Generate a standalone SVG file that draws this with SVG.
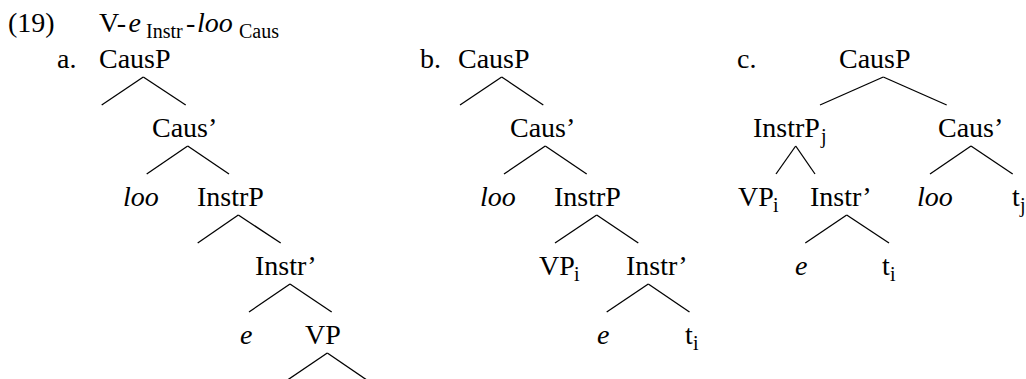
<svg xmlns="http://www.w3.org/2000/svg" width="1026" height="379" viewBox="0 0 1026 379">
<style>
text{font-family:"Liberation Serif","Times New Roman",serif;font-size:28px;fill:#000}
.i{font-style:italic}
.s{font-size:20px}
#edges line{stroke:#000;stroke-width:1.3;fill:none}
</style>
<rect width="1026" height="379" fill="#fff"/>
<g id="title">
<text x="8" y="32">(19)</text>
<text x="99" y="32">V-</text>
<text x="128.5" y="32" class="i">e</text>
<text x="146" y="38" class="s">Instr</text>
<text x="186" y="32">-</text>
<text x="197" y="32" class="i">loo</text>
<text x="239" y="38" class="s">Caus</text>
</g>
<g id="labels">
<text x="57" y="68">a.</text>
<text x="420" y="68">b.</text>
<text x="737" y="68">c.</text>
</g>
<g id="tree-a">
<g id="a-causp"><text x="99" y="68">CausP</text></g>
<g id="a-caus1"><text x="152" y="137">Caus’</text></g>
<g id="a-loo"><text x="123" y="206" class="i">loo</text></g>
<g id="a-instrp"><text x="197" y="206">InstrP</text></g>
<g id="a-instr1"><text x="255" y="275">Instr’</text></g>
<g id="a-e"><text x="240" y="344" class="i">e</text></g>
<g id="a-vp"><text x="305" y="344">VP</text></g>
</g>
<g id="tree-b">
<g id="b-causp"><text x="458" y="68">CausP</text></g>
<g id="b-caus1"><text x="510" y="137">Caus’</text></g>
<g id="b-loo"><text x="480" y="206" class="i">loo</text></g>
<g id="b-instrp"><text x="554" y="206">InstrP</text></g>
<g id="b-vpi"><text x="539" y="275">VP</text><text x="574" y="281" class="s">i</text></g>
<g id="b-instr1"><text x="626" y="275">Instr’</text></g>
<g id="b-e"><text x="597" y="344" class="i">e</text></g>
<g id="b-ti"><text x="685" y="344">t</text><text x="693" y="350" class="s">i</text></g>
</g>
<g id="tree-c">
<g id="c-causp"><text x="839" y="68">CausP</text></g>
<g id="c-instrpj"><text x="753" y="137">InstrP</text><text x="821" y="143" class="s">j</text></g>
<g id="c-caus1"><text x="938" y="137">Caus’</text></g>
<g id="c-vpi"><text x="738" y="206">VP</text><text x="773" y="212" class="s">i</text></g>
<g id="c-instr1"><text x="810" y="206">Instr’</text></g>
<g id="c-loo"><text x="917" y="206" class="i">loo</text></g>
<g id="c-tj"><text x="1012" y="206">t</text><text x="1020" y="212" class="s">j</text></g>
<g id="c-e"><text x="795" y="275" class="i">e</text></g>
<g id="c-ti"><text x="882" y="275">t</text><text x="890" y="281" class="s">i</text></g>
</g>
<g id="edges">
<line x1="143.3" y1="77" x2="101.7" y2="105"/><line x1="143.3" y1="77" x2="185.7" y2="105"/>
<line x1="187.7" y1="146" x2="146.7" y2="174"/><line x1="187.7" y1="146" x2="229" y2="174"/>
<line x1="238.3" y1="215" x2="197.7" y2="243"/><line x1="238.3" y1="215" x2="280.7" y2="243"/>
<line x1="290" y1="284" x2="249" y2="312"/><line x1="290" y1="284" x2="331.7" y2="312"/>
<line x1="327.3" y1="353" x2="286" y2="381"/><line x1="327.3" y1="353" x2="368.3" y2="381"/>
<line x1="501.7" y1="77" x2="460" y2="105"/><line x1="501.7" y1="77" x2="543.3" y2="105"/>
<line x1="545.3" y1="146" x2="504" y2="174"/><line x1="545.3" y1="146" x2="586.7" y2="174"/>
<line x1="596.7" y1="215" x2="555" y2="243"/><line x1="596.7" y1="215" x2="638.3" y2="243"/>
<line x1="648.3" y1="284" x2="606.7" y2="312"/><line x1="648.3" y1="284" x2="689.5" y2="312"/>
<line x1="883.3" y1="77" x2="820" y2="105"/><line x1="883.3" y1="77" x2="946.7" y2="105"/>
<line x1="795.7" y1="146" x2="776" y2="174"/><line x1="795.7" y1="146" x2="815" y2="174"/>
<line x1="971" y1="146" x2="930" y2="174"/><line x1="971" y1="146" x2="1012.7" y2="174"/>
<line x1="846.7" y1="215" x2="805.3" y2="243"/><line x1="846.7" y1="215" x2="889" y2="243"/>
</g>
</svg>
